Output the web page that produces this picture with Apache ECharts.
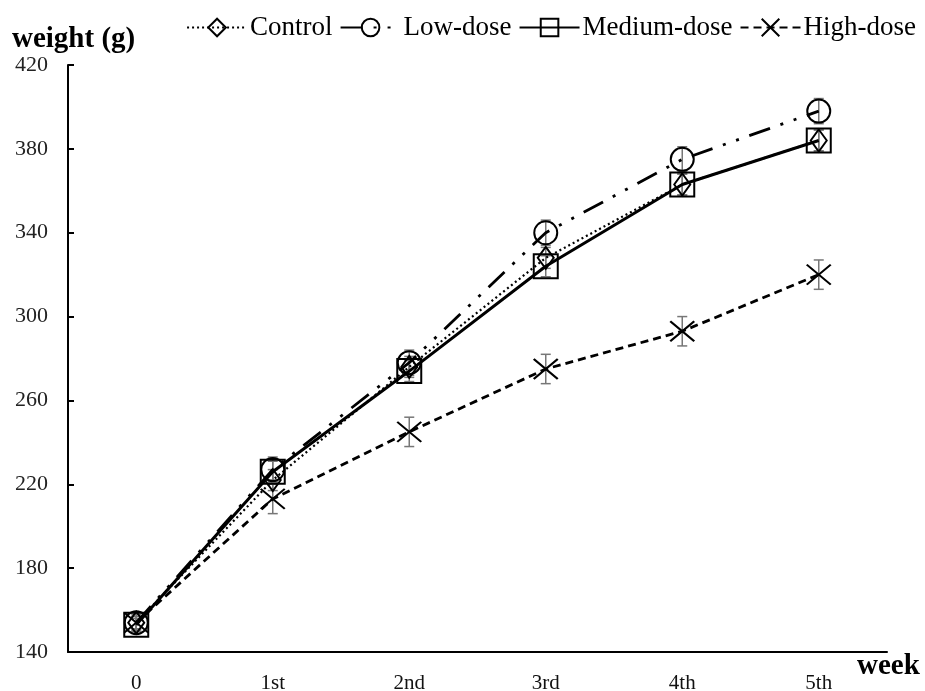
<!DOCTYPE html>
<html lang="en" style="height: 100%">
<head>
<meta charset="utf-8">
<title>Weight by week</title>
</head>
<body style="height: 100%; margin: 0; background: #fff">
<div id="container" style="height: 100%"></div>
<script type="text/javascript" src="https://cdn.jsdelivr.net/npm/echarts/dist/echarts.min.js"></script>
<script type="text/javascript">
var weeks = ['0', '1st', '2nd', '3rd', '4th', '5th'];

var control = [154, 222, 276, 328, 363, 384];
var lowDose = [154, 227, 278, 340, 375, 398];
var mediumDose = [153, 226, 274, 324, 363, 384];
var highDose = [154, 213, 245, 275, 293, 320];

var controlErr = [3, 5, 5, 5, 5, 5];
var lowErr = [3, 6, 6, 6, 6, 6];
var mediumErr = [3, 5, 5, 5, 5, 5];
var highErr = [4, 7, 7, 7, 7, 7];

var dom = document.getElementById('container');
var myChart = echarts.init(dom, null, { width: 925, height: 691 });

var font = 'Liberation Serif, Times New Roman, serif';

function errorSeries(values, errs) {
    var data = values.map(function (v, i) { return [i, v - errs[i], v + errs[i]]; });
    return {
        type: 'custom',
        silent: true,
        z: 1,
        data: data,
        renderItem: function (params, api) {
            var lo = api.coord([api.value(0), api.value(1)]);
            var hi = api.coord([api.value(0), api.value(2)]);
            var w = 5;
            var st = { stroke: '#777', lineWidth: 1.5 };
            return {
                type: 'group',
                children: [
                    { type: 'line', shape: { x1: lo[0], y1: lo[1], x2: hi[0], y2: hi[1] }, style: st },
                    { type: 'line', shape: { x1: lo[0] - w, y1: lo[1], x2: lo[0] + w, y2: lo[1] }, style: st },
                    { type: 'line', shape: { x1: hi[0] - w, y1: hi[1], x2: hi[0] + w, y2: hi[1] }, style: st }
                ]
            };
        }
    };
}

var markStyle = { color: 'rgba(0,0,0,0)', borderColor: '#000', borderWidth: 2 };

option = {
    animation: false,
    textStyle: { fontFamily: font, color: '#000' },
    legend: {
        top: 9,
        right: 4,
        itemWidth: 60,
        itemHeight: 22,
        itemGap: 7,
        textStyle: { fontFamily: font, fontSize: 27, color: '#000', padding: [0, 0, 0, -2] },
        data: ['Control', 'Low-dose', 'Medium-dose', 'High-dose']
    },
    grid: { left: 68, right: 38, top: 65, bottom: 39, outerBoundsMode: 'none', containLabel: false },
    xAxis: {
        type: 'category',
        data: weeks,
        boundaryGap: true,
        name: 'week',
        nameLocation: 'end',
        nameGap: 0,
        nameTextStyle: {
            fontFamily: font, fontSize: 29, fontWeight: 'bold', color: '#000',
            verticalAlign: 'top', lineHeight: 30, padding: [0, 0, 0, -30]
        },
        axisLine: { lineStyle: { color: '#000', width: 2 } },
        axisTick: { alignWithLabel: true, inside: true, length: 6, lineStyle: { color: '#000', width: 2 } },
        axisLabel: { fontFamily: font, fontSize: 21, color: '#111', margin: 21 }
    },
    yAxis: {
        type: 'value',
        min: 140,
        max: 420,
        interval: 40,
        name: 'weight (g)',
        nameLocation: 'end',
        nameGap: 9,
        nameTextStyle: { fontFamily: font, fontSize: 29, fontWeight: 'bold', color: '#000', align: 'left', padding: [0, 0, 0, -56] },
        splitLine: { show: false },
        axisLine: { show: true, lineStyle: { color: '#000', width: 2 } },
        axisTick: { show: true, inside: true, length: 6, lineStyle: { color: '#000', width: 2 } },
        axisLabel: { fontFamily: font, fontSize: 22, color: '#222', margin: 20 }
    },
    series: [
        errorSeries(control, controlErr),
        errorSeries(lowDose, lowErr),
        errorSeries(mediumDose, mediumErr),
        errorSeries(highDose, highErr),
        {
            name: 'Control',
            type: 'line',
            z: 3,
            data: control,
            symbol: 'diamond',
            symbolSize: [16, 22],
            itemStyle: markStyle,
            lineStyle: { color: '#000', width: 2.2, type: [2, 3] }
        },
        {
            name: 'Low-dose',
            type: 'line',
            z: 3,
            data: lowDose,
            symbol: 'circle',
            symbolSize: 23,
            itemStyle: markStyle,
            lineStyle: { color: '#000', width: 2.8, type: [22, 11, 3, 11, 3, 11] }
        },
        {
            name: 'Medium-dose',
            type: 'line',
            z: 3,
            data: mediumDose,
            symbol: 'rect',
            symbolSize: 24,
            itemStyle: markStyle,
            lineStyle: { color: '#000', width: 3, type: 'solid' }
        },
        {
            name: 'High-dose',
            type: 'line',
            z: 3,
            data: highDose,
            symbol: 'path://M0,0L20,16M20,0L0,16',
            symbolSize: [24, 20],
            itemStyle: markStyle,
            lineStyle: { color: '#000', width: 2.8, type: [8, 5] }
        }
    ]
};

if (option && typeof option === 'object') {
    myChart.setOption(option);
}

window.addEventListener('resize', myChart.resize);
</script>
</body>
</html>
